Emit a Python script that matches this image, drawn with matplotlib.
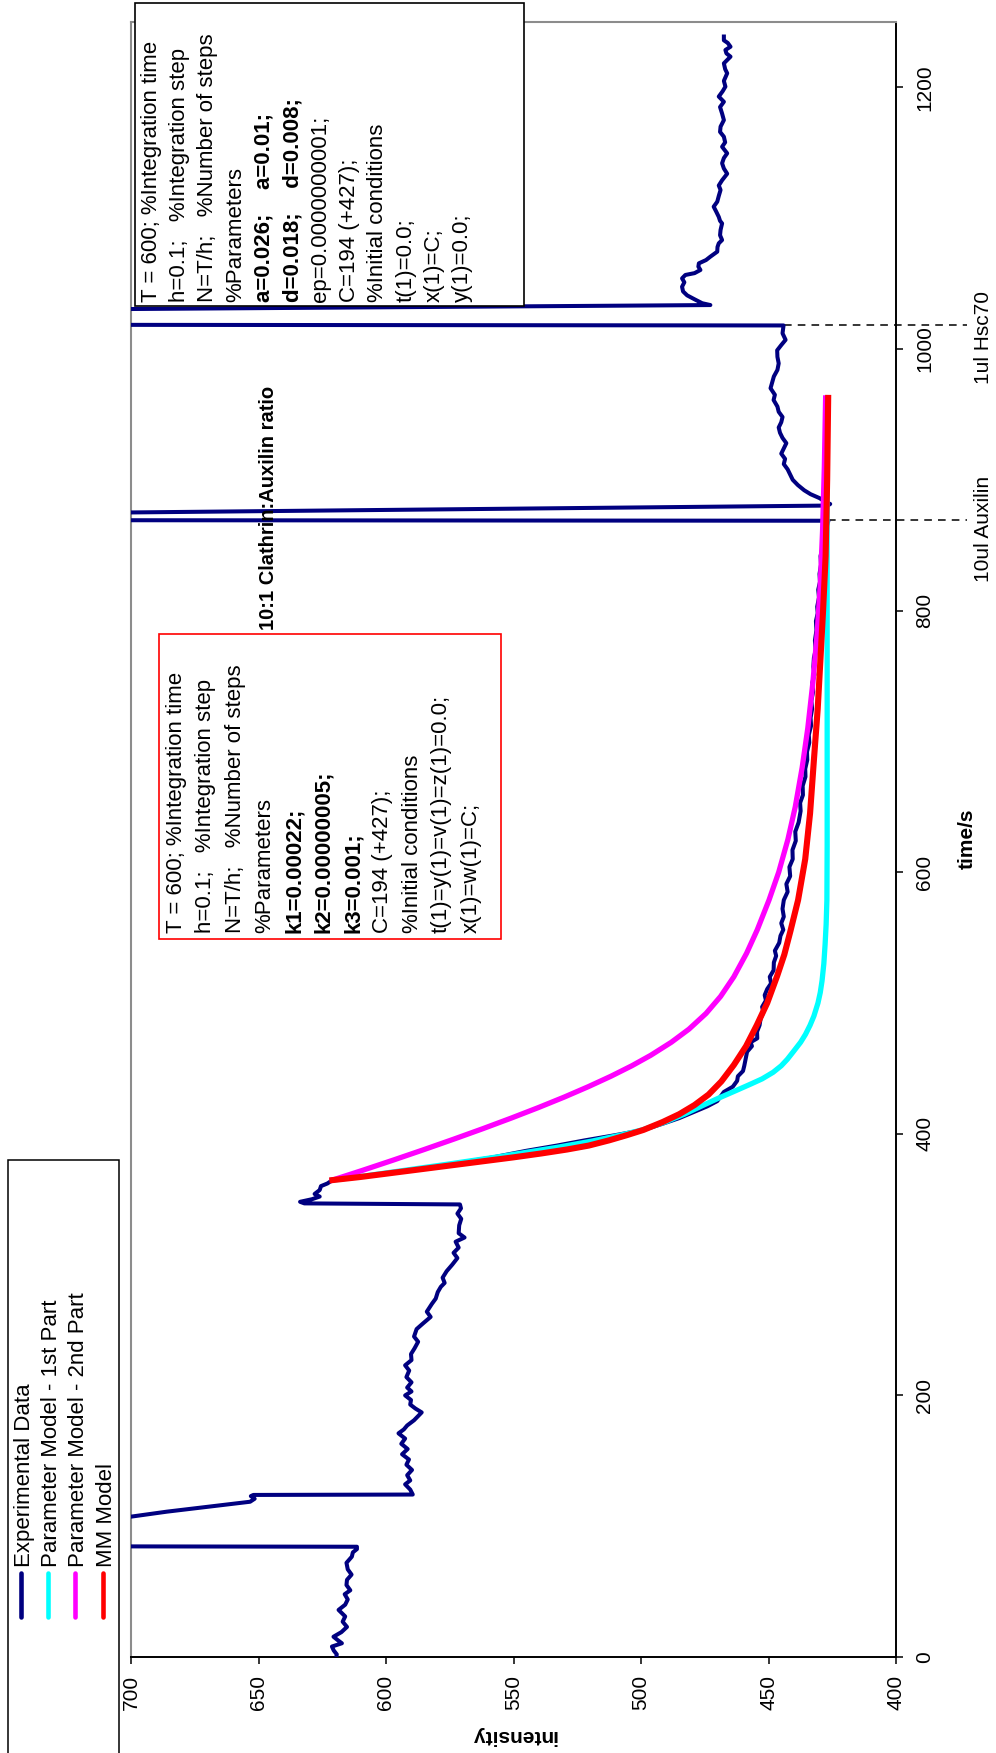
import matplotlib
matplotlib.use("Agg")
import matplotlib.pyplot as plt
from matplotlib.patches import Rectangle
from matplotlib.lines import Line2D

plt.rcParams['font.family'] = ['Liberation Sans', 'DejaVu Sans']

# ---------------- data (time in s, intensity) ----------------
exp_time = [0, 2, 5, 8, 10.5, 13, 15.5, 19, 23, 27, 31, 36, 40, 44, 48, 51, 55, 59, 63, 67, 72, 76.7, 80, 82.5, 84.3,
            84.8, 106, 107.3, 111.1, 118.7, 121, 123, 123.9,
            124.2, 128, 132, 135, 139, 143, 147, 151, 155, 159, 163, 167, 171, 174, 177, 181, 184, 187, 190, 193, 196.5,
            200, 203, 206, 210, 214, 219, 223, 227, 231.6, 236, 241, 245, 250.7, 255, 260, 264, 270, 274, 279, 283, 286,
            290, 295, 300, 305, 309, 313, 317.5, 320.7, 324, 330, 335, 339, 343, 346,
            346.8, 348, 350, 352, 354, 357, 360, 362, 364.6,
            368, 372, 377, 382, 387, 391, 395, 399, 403, 408, 412, 416.7, 421, 425, 428, 432, 436, 440.5, 444, 448, 452,
            457, 462.7, 467, 470, 473, 478, 483, 488, 493, 497, 502, 506, 510.7, 515, 520, 525, 531, 536, 540, 546, 551.4,
            556, 561, 566, 572, 578.7, 585, 591, 597, 604, 610, 617, 624, 631, 638, 646.8, 653, 659, 666, 673, 679, 685.8,
            692, 699, 705, 712, 718, 724.8, 731, 738, 745, 751, 757, 763.8, 770, 777, 785, 792, 798, 803, 810, 816, 822,
            828, 835, 841.7, 848, 855, 862, 868.7,
            869.2, 873.5, 880.3, 881.5, 883, 886, 889, 892, 896, 900, 904, 908, 912, 916, 920, 924, 928, 932, 936, 940,
            944, 948, 952, 956, 961, 965, 970, 975, 979, 984, 989, 994, 999, 1003, 1007, 1012, 1018,
            1018.6, 1029.5, 1033.6, 1035, 1038, 1041, 1044, 1047.6, 1051, 1054, 1056.6, 1058, 1060.4, 1063, 1065.5, 1068,
            1070.6, 1074.4, 1078, 1080.8, 1083.3, 1087, 1091, 1096, 1098, 1101, 1105, 1108.8, 1112.6, 1117, 1121.6,
            1125, 1129, 1134, 1138, 1142, 1146, 1149.6, 1154.6, 1158, 1162.3, 1166, 1170, 1175, 1180, 1185, 1189, 1193,
            1197, 1200.6, 1205, 1210.8, 1214, 1218.4, 1223.5, 1226, 1228.6, 1231.1, 1234, 1236, 1238.9]
exp_intensity = [619.5, 619.3, 620.5, 621.2, 617.3, 619.0, 620.6, 617.5, 615.3, 617.0, 616.0, 618.6, 616.0, 615.0,
                 616.2, 614.0, 615.5, 615.3, 613.5, 615.0, 615.5, 613.4, 613.0, 611.4, 611.4,
                 780, 780, 700, 686, 653.3, 651.5, 653, 652,
                 589.5, 590.5, 592.5, 590.5, 591.7, 589.8, 592, 591, 593.7, 591.5, 594, 592.5, 595.1, 593, 591.7, 589,
                 587.5, 586, 588.5, 590.5, 590.2, 592.5, 590, 591.7, 590, 592, 590.9, 592.5, 590, 590.2, 588.8, 587.4,
                 589, 588, 585.5, 582.5, 584, 582, 580.5, 579.7, 578.5, 577, 577.8, 576.2, 574, 572, 573.5, 571.5,
                 572.7, 569.2, 571.5, 571.3, 570.5, 572, 570.6, 571,
                 632, 633.7, 629, 626, 628, 626, 625.5, 623, 621,
                 606, 591, 574, 558, 545, 533, 522, 510, 499, 491, 485, 479.3, 474, 470.1, 469, 467.5, 464, 462.3, 462,
                 460, 459.5, 459, 458.4, 456.5, 457, 454.4, 454.5, 453.5, 453.1, 452, 452.5, 451, 451.5, 450.5, 449,
                 449.5, 448, 447.9, 447, 447.5, 445.8, 445.3, 444.2, 445, 444, 444.5, 444.0, 442.5, 443, 441.5, 441.8,
                 440.5, 440.6, 439.3, 439.5, 438.2, 437.4, 437.6, 436.5, 436.6, 435.5, 435.6, 434.8, 434.9, 434, 434.2,
                 433.3, 433.5, 432.9, 433.2, 432.5, 432.8, 432, 432.4, 432.2, 431.5, 431.8, 431.2, 431.4, 430.7, 430.9,
                 430.2, 430.5, 429.8, 430, 429.4, 429.6, 428.8, 428.5, 427.5, 426.5,
                 780, 780, 426.8, 425.8, 427.5, 430, 433.5, 436, 438.5, 440.5, 441.5, 442.5, 444, 443.5, 445, 444, 443,
                 444.5, 445.5, 446, 445, 444.5, 446, 446.5, 448, 447.5, 449.2, 448.5, 447.9, 446.5, 446, 446.5, 446.6,
                 445, 443.3, 444.5, 444.1,
                 780, 780, 472.8, 476, 479, 481.9, 483.5, 483.9, 483, 483.9, 482.6, 479, 476.7, 477.5, 477.3, 474.5,
                 472.8, 470.1, 470, 469.5, 468.2, 469, 468.8, 468.2, 469, 469.5, 470.5, 471.5, 470.1, 469.5, 468.8,
                 469.5, 468.2, 466.2, 467.5, 468.2, 467.5, 466.2, 468.2, 467, 467.5, 469, 468.8, 467.5, 468.2, 469,
                 467.5, 469.5, 468, 466.9, 467.5, 466.2, 467, 467.5, 464.9, 466.5, 466.9, 464.9, 466, 467.5, 467.5]

pm1_time = [364.6, 368, 372, 377, 383, 389.6, 394.5, 399, 403, 409, 415, 421, 426.8, 433, 438, 442, 447, 452, 457,
            462.7, 470, 476, 483, 490, 500, 508, 517, 530, 545, 560, 578.7, 620, 680, 740, 800, 850, 894]
pm1_intensity = [621, 607.5, 593, 575, 554, 533, 519, 508, 499.5, 490.5, 483, 476.5, 470.1, 462.8, 457, 452.5,
                 448.2, 445, 442.6, 440.3, 437.4, 435.5, 433.7, 432.2, 430.6, 429.7, 429, 428.3, 427.8, 427.4, 427.1,
                 427, 427, 427, 427, 427, 427]

pm2_time = [364.6, 372, 380, 388, 396, 404, 412, 420, 428, 436, 444, 452, 460, 470, 480, 492, 505, 520, 538, 556,
            578.7, 600, 625, 650, 680, 710, 745, 783, 820, 861, 910, 962.6]
pm2_intensity = [621, 609.3, 597.0, 585.0, 573.3, 561.9, 550.9, 540.3, 530.2, 520.7, 511.8, 503.6, 496.2, 488.1,
                 481.2, 474.5, 468.8, 463.6, 458.6, 454.4, 449.8, 446, 442.4, 439.5, 436.8, 434.6, 432.6, 430.9,
                 429.7, 428.8, 428.1, 427.6]

mm_time = [364.6, 367, 370, 373, 376, 379, 382, 385, 388, 391, 395, 399, 403, 409, 415, 422, 430, 440, 452.6, 467,
           483, 500, 520.7, 537, 555, 578.7, 610, 645, 685.6, 725, 763.8, 800, 841.7, 900, 962.6]
mm_intensity = [621, 610, 598, 586, 574, 562, 550, 539, 529, 520.5, 512.5, 505.5, 499, 491.5, 485, 479, 473.5,
                468.5, 463.6, 458.8, 454.6, 450.5, 446.6, 443.8, 441.4, 438.4, 435.6, 433.7, 432.2, 430.7, 429.6,
                428.6, 427.6, 427, 426.6]

inj_times = [869, 1018]
inj_start_intensity = [426.5, 444.0]
inj_labels = ["10ul Auxilin", "1ul Hsc70"]

series_names = ["Experimental Data", "Parameter Model - 1st Part", "Parameter Model - 2nd Part", "MM Model"]
series_colors = ["#000080", "#00FFFF", "#FF00FF", "#FF0000"]

intensity_ticks = [400, 450, 500, 550, 600, 650, 700]
time_ticks = [0, 200, 400, 600, 800, 1000, 1200]

box1_lines = ["T = 600; %Integration time", "h=0.1;   %Integration step", "N=T/h;   %Number of steps",
              "%Parameters", "a=0.026;    a=0.01;", "d=0.018;    d=0.008;", "ep=0.0000000001;", "C=194 (+427);",
              "%Initial conditions", "t(1)=0.0;", "x(1)=C;", "y(1)=0.0;"]
box1_bold = [False, False, False, False, True, True, False, False, False, False, False, False]
box2_lines = ["T = 600; %Integration time", "h=0.1;   %Integration step", "N=T/h;   %Number of steps",
              "%Parameters", "k1=0.00022;", "k2=0.00000005;", "k3=0.001;", "C=194 (+427);",
              "%Initial conditions", "t(1)=y(1)=v(1)=z(1)=0.0;", "x(1)=w(1)=C;"]
box2_bold = [False, False, False, False, True, True, True, False, False, False, False]

# ---------------- figure ----------------
W, H = 996, 1753
fig = plt.figure(figsize=(W / 100, H / 100), dpi=100)


def fx(x):
    return x / W


def fy(y):
    return 1 - y / H


ax = fig.add_axes([fx(131), fy(1657), (896 - 131) / W, (1657 - 22) / H])
ax.set_xlim(700, 400)
ax.set_ylim(0, 1250)

ax.plot(exp_intensity, exp_time, color=series_colors[0], lw=2.9, solid_joinstyle='round', zorder=3)
ax.plot(pm1_intensity, pm1_time, color=series_colors[1], lw=3.8, zorder=4)
ax.plot(pm2_intensity, pm2_time, color=series_colors[2], lw=3.8, zorder=5)
ax.plot(mm_intensity, mm_time, color=series_colors[3], lw=4.4, zorder=6)

for t, i0 in zip(inj_times, inj_start_intensity):
    ax.plot([i0, 372], [t, t], color='black', lw=1.1, dashes=(5, 4), clip_on=False, zorder=2)

ax.yaxis.tick_right()
ax.set_xticks(intensity_ticks)
ax.set_yticks(time_ticks)
ax.tick_params(axis='x', direction='out', length=5, width=1.1, labelsize=15, labelrotation=90, pad=8)
ax.tick_params(axis='y', direction='out', length=5, width=1.1, labelsize=15, labelrotation=90, pad=9)
for lab in ax.get_yticklabels():
    lab.set_va('center')
for s in ['left', 'top']:
    ax.spines[s].set_color('#8c8c8c')
    ax.spines[s].set_linewidth(1.5)
for s in ['right', 'bottom']:
    ax.spines[s].set_color('black')
    ax.spines[s].set_linewidth(1.4)

# titles / labels
fig.text(fx(268), fy(508), "10:1 Clathrin:Auxilin ratio", rotation=90, ha='center', va='center',
         fontsize=14.5, fontweight='bold')
fig.text(fx(967), fy(839), "time/s", rotation=90, ha='center', va='center', fontsize=15, fontweight='bold')
fig.text(fx(514), fy(1735), "intensity", rotation=180, ha='center', va='center', fontsize=15, fontweight='bold')
for t, lab, yc in zip(inj_times, inj_labels, [529, 337]):
    fig.text(fx(983), fy(yc), lab, rotation=90, ha='center', va='center', fontsize=15)

# black parameter box
fig.add_artist(Rectangle((fx(135), fy(306)), (524 - 135) / W, (306 - 3) / H, transform=fig.transFigure,
                         facecolor='white', edgecolor='black', lw=1.2, zorder=8))
for k, (line, b) in enumerate(zip(box1_lines, box1_bold)):
    fig.text(fx(151 + 28.3 * k), fy(302), line, rotation=90, ha='center', va='bottom', fontsize=16,
             fontweight='bold' if b else 'normal', zorder=9)

# red parameter box
fig.add_artist(Rectangle((fx(159.3), fy(939.3)), (500.7 - 159.3) / W, (939.3 - 634) / H, transform=fig.transFigure,
                         facecolor='white', edgecolor='#FF0000', lw=1.2, zorder=8))
for k, (line, b) in enumerate(zip(box2_lines, box2_bold)):
    fig.text(fx(176 + 29.5 * k), fy(933), line, rotation=90, ha='center', va='bottom', fontsize=16,
             fontweight='bold' if b else 'normal', zorder=9)

# legend
fig.add_artist(Rectangle((fx(8), fy(1765)), (118.6 - 8) / W, (1765 - 1160) / H, transform=fig.transFigure,
                         facecolor='white', edgecolor='black', lw=1.1, zorder=8))
for k, (name, col) in enumerate(zip(series_names, series_colors)):
    xh = 20.7 + 27.3 * k
    fig.add_artist(Line2D([fx(xh), fx(xh)], [fy(1573), fy(1617)], transform=fig.transFigure, color=col, lw=3.3,
                          solid_capstyle='round', zorder=9))
    fig.text(fx(xh + 3.5), fy(1567), name, rotation=90, ha='center', va='bottom', fontsize=16, zorder=9)

fig.savefig("out.png", dpi=100, facecolor='white')
